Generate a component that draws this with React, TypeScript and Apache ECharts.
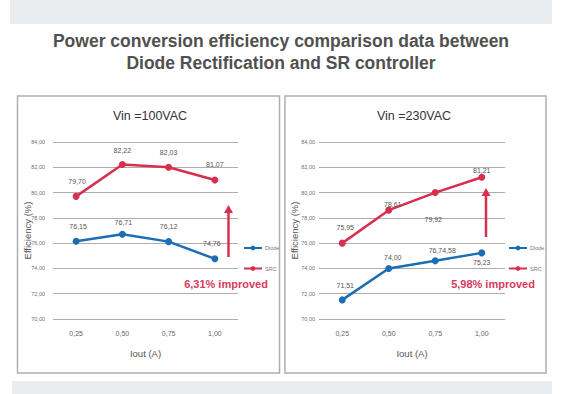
import React, { useEffect, useRef } from "react";
import * as echarts from "echarts";

const categories = ["0,25", "0,50", "0,75", "1,00"];
const yTicks = [70, 72, 74, 76, 78, 80, 82, 84];

const diode100 = [76.15, 76.71, 76.12, 74.76];
const src100 = [79.7, 82.22, 82.0, 81.0];
const diode100Labels = ["76,15", "76,71", "76,12", "74,76"];
const src100Labels = ["79,70", "82,22", "82,03", "81,07"];

const diode230 = [71.51, 74.0, 74.6, 75.23];
const src230 = [76.0, 78.61, 80.0, 81.21];
const diode230Labels = ["71,51", "74,00", "76,74,58", "75,23"];
const src230Labels = ["75,95", "78,61", "79,92", "81,21"];

const panelTitles = ["Vin =100VAC", "Vin =230VAC"];
const improvements = ["6,31% improved", "5,98% improved"];
const mainTitle = "Power conversion efficiency comparison data between\nDiode Rectification and SR controller";

const RED = "#d82f50";
const BLUE = "#1c6db4";
const FONT = "Liberation Sans, Arial, sans-serif";

// label offsets (presentation only)
const offD100 = [[2, -14.5], [1, -11.5], [0, -15], [-3, -15]];
const offS100 = [[1, -15], [0, -14], [0, -15], [0, -15.5]];
const offD230 = [[3, -14], [4, -10.7], [7, -10], [0, 9.5]];
const offS230 = [[3, -15.6], [4, -6], [-2, 27], [0, -6.5]];

function buildData(values: number[], labels: string[], offs: number[][]) {
  return values.map((v, i) => ({
    value: v,
    label: {
      show: true,
      position: "inside",
      offset: offs[i],
      formatter: labels[i],
    },
  }));
}

export default function App() {
  const ref = useRef<HTMLDivElement>(null);
  useEffect(() => {
    document.body.style.margin = "0";
    const chart = echarts.init(ref.current!, null, { renderer: "svg" });
    const grids = [
      { left: 53, top: 142, width: 185, height: 177 },
      { left: 319, top: 142, width: 186, height: 177 },
    ];
    const xAxes = grids.map((_, i) => ({
      type: "category",
      gridIndex: i,
      data: categories,
      boundaryGap: true,
      axisLine: { show: false },
      axisTick: { show: false },
      axisLabel: { color: "#666", fontSize: 7, margin: 11, fontFamily: FONT },
      name: "Iout (A)",
      nameLocation: "middle",
      nameGap: 29,
      nameMoveOverlap: false,
      nameTextStyle: { color: "#555", fontSize: 9.5, fontFamily: FONT },
    }));
    const yAxes = grids.map((_, i) => ({
      type: "value",
      gridIndex: i,
      min: yTicks[0],
      max: yTicks[yTicks.length - 1],
      interval: 2,
      axisLine: { show: false },
      axisTick: { show: false },
      axisLabel: {
        color: "#707070",
        fontSize: 5.5,
        margin: i === 0 ? 8 : 4,
        fontFamily: FONT,
        formatter: (v: number) => v.toFixed(2).replace(".", ","),
      },
      splitLine: { lineStyle: { color: "#adadad", width: 1.2 } },
      name: "Efficiency (%)",
      nameLocation: "middle",
      nameGap: i === 0 ? 21 : 20,
      nameMoveOverlap: false,
      nameTextStyle: { color: "#555", fontSize: 9.5, fontFamily: FONT },
    }));
    const mkSeries = (name: string, color: string, idx: number, data: any[]) => ({
      type: "line",
      name,
      xAxisIndex: idx,
      yAxisIndex: idx,
      data,
      symbol: "circle",
      symbolSize: 7,
      lineStyle: { color, width: 2.5 },
      itemStyle: { color },
      label: { color: "#555", fontSize: 7, fontFamily: FONT },
    });
    const arrow = (x: number, yBottom: number, yTip: number) => [
      {
        type: "line",
        z: 100,
        shape: { x1: x, y1: yBottom, x2: x, y2: yTip + 6 },
        style: { stroke: RED, lineWidth: 2.5 },
      },
      {
        type: "polygon",
        z: 100,
        shape: { points: [[x, yTip], [x - 4.5, yTip + 8], [x + 4.5, yTip + 8]] },
        style: { fill: RED },
      },
    ];
    chart.setOption({
      animation: false,
      backgroundColor: "#ffffff",
      title: [
        {
          text: mainTitle,
          left: 281,
          top: 30,
          padding: 0,
          textAlign: "center",
          textStyle: { color: "#505050", fontSize: 17.5, fontWeight: "bold", fontFamily: FONT, lineHeight: 22 },
        },
        {
          text: panelTitles[0],
          left: 150,
          top: 109,
          padding: 0,
          textAlign: "center",
          textStyle: { color: "#333", fontSize: 12.5, fontWeight: "normal", fontFamily: FONT },
        },
        {
          text: panelTitles[1],
          left: 414,
          top: 109,
          padding: 0,
          textAlign: "center",
          textStyle: { color: "#333", fontSize: 12.5, fontWeight: "normal", fontFamily: FONT },
        },
      ],
      legend: [
        {
          left: 238,
          top: 240,
          orient: "vertical",
          itemWidth: 18,
          itemHeight: 6,
          itemGap: 14.5,
          data: ["Diode", "SRC"],
          textStyle: { color: "#777", fontSize: 5.5, fontFamily: FONT, padding: [0, 0, 0, -2] },
        },
        {
          left: 503,
          top: 240,
          orient: "vertical",
          itemWidth: 18,
          itemHeight: 6,
          itemGap: 14.5,
          data: ["Diode", "SRC"],
          textStyle: { color: "#777", fontSize: 5.5, fontFamily: FONT, padding: [0, 0, 0, -2] },
        },
      ],
      grid: grids,
      xAxis: xAxes,
      yAxis: yAxes,
      series: [
        mkSeries("Diode", BLUE, 0, buildData(diode100, diode100Labels, offD100)),
        mkSeries("SRC", RED, 0, buildData(src100, src100Labels, offS100)),
        mkSeries("Diode", BLUE, 1, buildData(diode230, diode230Labels, offD230)),
        mkSeries("SRC", RED, 1, buildData(src230, src230Labels, offS230)),
      ],
      graphic: [
        { type: "rect", z: -10, shape: { x: 10, y: 0, width: 542, height: 24 }, style: { fill: "#e9edf0" } },
        { type: "rect", z: -10, shape: { x: 12, y: 381, width: 540, height: 13 }, style: { fill: "#e9edf0" } },
        { type: "rect", z: -10, shape: { x: 17.5, y: 96, width: 262, height: 277 }, style: { fill: "#fff", stroke: "#b0b0b0", lineWidth: 1.5 } },
        { type: "rect", z: -10, shape: { x: 285, y: 96, width: 261, height: 277 }, style: { fill: "#fff", stroke: "#b0b0b0", lineWidth: 1.5 } },
        ...arrow(228.5, 257, 205),
        ...arrow(486, 237, 188),
        {
          type: "text",
          z: 100,
          x: 226,
          y: 284,
          style: { text: improvements[0], fill: "#d83a5c", fontSize: 11, fontWeight: "bold", fontFamily: FONT, align: "center", verticalAlign: "middle" },
        },
        {
          type: "text",
          z: 100,
          x: 493,
          y: 284,
          style: { text: improvements[1], fill: "#d83a5c", fontSize: 11, fontWeight: "bold", fontFamily: FONT, align: "center", verticalAlign: "middle" },
        },
      ],
    });
    return () => chart.dispose();
  }, []);
  return <div ref={ref} style={{ width: 570, height: 394 }} />;
}
